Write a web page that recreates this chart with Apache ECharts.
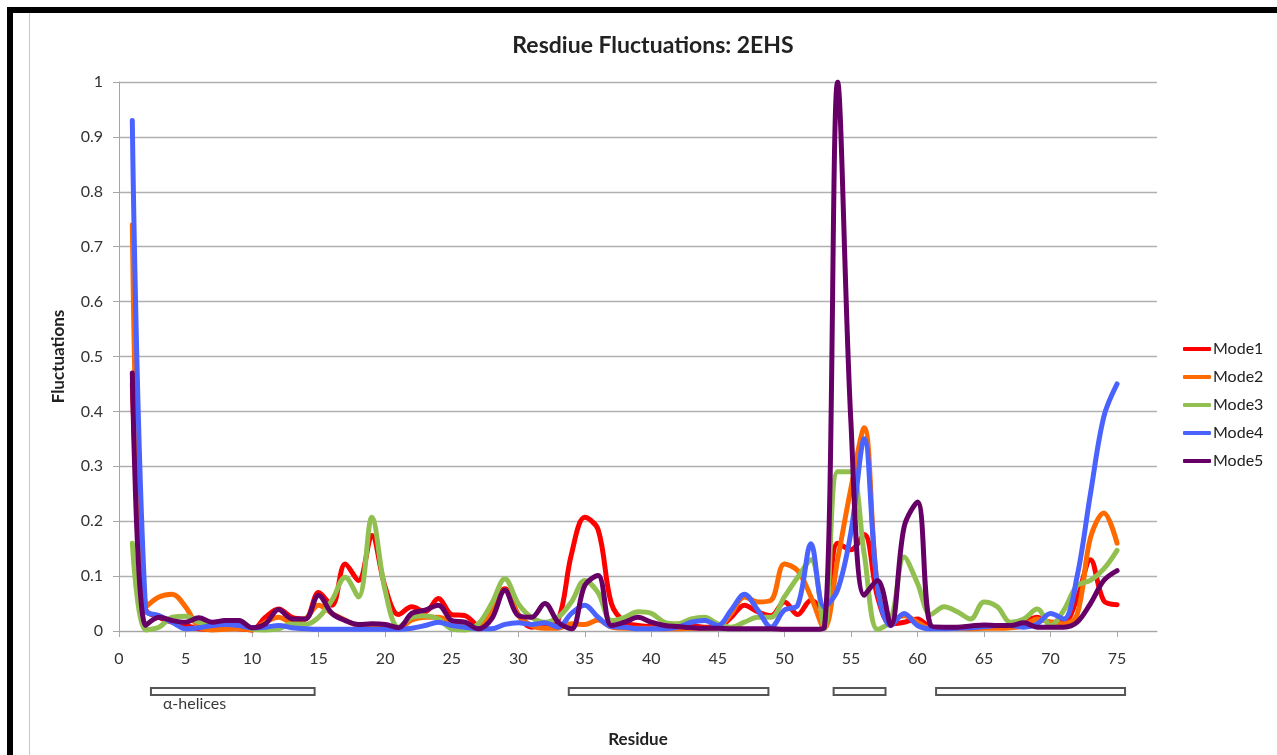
<!DOCTYPE html>
<html>
<head>
<meta charset="utf-8">
<script src="https://cdn.jsdelivr.net/npm/echarts@6/dist/echarts.min.js"></script>
<style>
html,body{margin:0;padding:0;background:#fff;}
#chart{width:1277px;height:755px;}
</style>
</head>
<body>
<div id="chart"></div>
<script>
const residues = [1,2,3,4,5,6,7,8,9,10,11,12,13,14,15,16,17,18,19,20,21,22,23,24,25,26,27,28,29,30,31,32,33,34,35,36,37,38,39,40,41,42,43,44,45,46,47,48,49,50,51,52,53,54,55,56,57,58,59,60,61,62,63,64,65,66,67,68,69,70,71,72,73,74,75];

const mode1 = [0.45,0.04,0.025,0.016,0.01,0.004,0.003,0.007,0.004,0.002,
  0.025,0.04,0.025,0.022,0.07,0.047,0.122,0.092,0.174,0.08,
  0.03,0.044,0.035,0.059,0.03,0.028,0.01,0.044,0.077,0.03,
  0.007,0.013,0.02,0.14,0.207,0.185,0.05,0.016,0.01,0.008,
  0.008,0.007,0.01,0.007,0.007,0.025,0.047,0.035,0.028,0.053,
  0.03,0.056,0.038,0.16,0.148,0.176,0.062,0.013,0.016,0.022,
  0.007,0.006,0.006,0.007,0.007,0.007,0.008,0.016,0.025,0.016,
  0.016,0.06,0.13,0.055,0.048];

const mode2 = [0.74,0.044,0.062,0.067,0.044,0.007,0.002,0.003,0.004,0.002,
  0.016,0.025,0.016,0.022,0.047,0.032,0.02,0.01,0.01,0.008,
  0.005,0.02,0.025,0.025,0.016,0.01,0.005,0.038,0.074,0.03,
  0.01,0.005,0.005,0.013,0.012,0.02,0.007,0.005,0.005,0.005,
  0.004,0.004,0.005,0.005,0.006,0.032,0.062,0.053,0.056,0.122,
  0.11,0.062,0.005,0.13,0.26,0.37,0.08,0.02,0.028,0.016,
  0.005,0.005,0.005,0.004,0.005,0.005,0.006,0.01,0.022,0.016,
  0.013,0.03,0.17,0.215,0.16];

const mode3 = [0.16,0.002,0.007,0.025,0.027,0.016,0.012,0.019,0.019,0.004,
  0.002,0.004,0.013,0.012,0.025,0.056,0.098,0.062,0.207,0.074,
  0.007,0.025,0.028,0.022,0.004,0.002,0.013,0.05,0.095,0.05,
  0.025,0.016,0.025,0.053,0.092,0.07,0.019,0.025,0.035,0.032,
  0.016,0.013,0.022,0.025,0.013,0.007,0.016,0.025,0.025,0.062,
  0.098,0.13,0.005,0.29,0.29,0.14,0.003,0.02,0.135,0.087,
  0.03,0.044,0.035,0.022,0.053,0.044,0.016,0.022,0.04,0.01,
  0.038,0.083,0.092,0.113,0.147];

const mode4 = [0.93,0.038,0.028,0.016,0.004,0.006,0.01,0.012,0.01,0.006,
  0.007,0.01,0.006,0.004,0.003,0.003,0.003,0.003,0.003,0.003,
  0.003,0.005,0.01,0.016,0.01,0.007,0.004,0.004,0.012,0.015,
  0.012,0.015,0.007,0.032,0.047,0.025,0.008,0.007,0.004,0.004,
  0.004,0.007,0.016,0.019,0.01,0.038,0.067,0.038,0.007,0.038,
  0.047,0.159,0.044,0.075,0.18,0.35,0.08,0.01,0.032,0.01,
  0.004,0.004,0.005,0.006,0.008,0.01,0.01,0.007,0.013,0.032,
  0.022,0.1,0.25,0.39,0.45];

const mode5 = [0.47,0.01,0.025,0.019,0.016,0.024,0.016,0.019,0.019,0.006,
  0.013,0.039,0.022,0.022,0.065,0.032,0.019,0.012,0.013,0.012,
  0.006,0.032,0.038,0.047,0.019,0.016,0.004,0.022,0.074,0.028,
  0.025,0.05,0.016,0.004,0.083,0.101,0.01,0.016,0.025,0.016,
  0.01,0.008,0.006,0.005,0.005,0.004,0.004,0.004,0.004,0.003,
  0.003,0.003,0.006,1.0,0.38,0.065,0.092,0.01,0.19,0.235,
  0.01,0.007,0.007,0.009,0.011,0.01,0.01,0.015,0.007,0.007,
  0.007,0.016,0.05,0.092,0.11];

const seriesNames = ['Mode1','Mode2','Mode3','Mode4','Mode5'];
const seriesColors = ['#ff0000','#ff6a00','#92c050','#4a63ff','#660066'];
const xTickValues = [0,5,10,15,20,25,30,35,40,45,50,55,60,65,70,75];

// alpha-helix residue ranges
const helixStart = [2.4, 33.8, 53.7, 61.4];
const helixEnd = [14.7, 48.8, 57.6, 75.6];

const FONT = 'Lato, "Open Sans", sans-serif';
const allModes = [mode1, mode2, mode3, mode4, mode5];

const chart = echarts.init(document.getElementById('chart'), null, {renderer: 'canvas'});

const lineSeries = allModes.map((vals, k) => ({
  name: seriesNames[k],
  type: 'line',
  xAxisIndex: 0,
  yAxisIndex: 0,
  data: residues.map((r, i) => [r, vals[i]]),
  showSymbol: false,
  symbol: 'none',
  smooth: 0.35,
  lineStyle: {width: 5, color: seriesColors[k], cap: 'round', join: 'round'},
  itemStyle: {color: seriesColors[k]},
  emphasis: {disabled: true},
  animation: false
}));

const helixSeries = {
  type: 'custom',
  xAxisIndex: 1,
  yAxisIndex: 1,
  data: helixStart.map((s, i) => [s, helixEnd[i]]),
  clip: false,
  silent: true,
  renderItem: function (params, api) {
    const p0 = api.coord([api.value(0), 1]);
    const p1 = api.coord([api.value(1), 0]);
    return {
      type: 'rect',
      shape: {x: p0[0], y: p0[1], width: p1[0] - p0[0], height: p1[1] - p0[1]},
      style: {fill: '#ffffff', stroke: '#555555', lineWidth: 2}
    };
  },
  animation: false
};

const option = {
  backgroundColor: '#ffffff',
  animation: false,
  title: {
    text: 'Resdiue Fluctuations: 2EHS',
    left: 648,
    top: 29,
    textAlign: 'center',
    textStyle: {fontFamily: FONT, fontSize: 23, fontWeight: 'bold', color: '#222'}
  },
  legend: {
    orient: 'vertical',
    left: 1183,
    top: 341,
    itemWidth: 28,
    itemHeight: 4,
    itemGap: 12,
    padding: 0,
    icon: 'roundRect',
    data: seriesNames,
    textStyle: {fontFamily: FONT, fontSize: 16, color: '#222', padding: [0,0,0,-3]}
  },
  grid: [
    {left: 119, right: 120, top: 82, bottom: 124, containLabel: false},
    {left: 119, right: 120, top: 688, height: 7, containLabel: false}
  ],
  xAxis: [
    {
      type: 'value', gridIndex: 0, min: 0, max: 78, interval: 5,
      name: 'Residue', nameLocation: 'middle', nameGap: 100,
      nameTextStyle: {fontFamily: FONT, fontSize: 17, fontWeight: 'bold', color: '#222'},
      axisLine: {show: true, lineStyle: {color: '#a6a6a6', width: 1}},
      axisTick: {show: true, length: 6, customValues: xTickValues, lineStyle: {color: '#a6a6a6'}},
      axisLabel: {customValues: xTickValues, margin: 20, fontFamily: FONT, fontSize: 16, color: '#333'},
      splitLine: {show: false}
    },
    {type: 'value', gridIndex: 1, min: 0, max: 78, show: false}
  ],
  yAxis: [
    {
      type: 'value', gridIndex: 0, min: 0, max: 1, interval: 0.1,
      name: 'Fluctuations', nameLocation: 'middle', nameGap: 52, nameRotate: 90,
      nameTextStyle: {fontFamily: FONT, fontSize: 17, fontWeight: 'bold', color: '#222'},
      axisLine: {show: true, lineStyle: {color: '#a6a6a6', width: 1}},
      axisTick: {show: true, length: 6, lineStyle: {color: '#a6a6a6'}},
      axisLabel: {margin: 16, fontFamily: FONT, fontSize: 16, color: '#333'},
      splitLine: {show: true, lineStyle: {color: '#b0b0b0', width: 1.3}}
    },
    {type: 'value', gridIndex: 1, min: 0, max: 1, show: false}
  ],
  graphic: [
    {type: 'rect', shape: {x: 7, y: 7, width: 1270, height: 6}, style: {fill: '#000'}, silent: true},
    {type: 'rect', shape: {x: 7, y: 7, width: 6, height: 748}, style: {fill: '#000'}, silent: true},
    {type: 'rect', shape: {x: 29, y: 13, width: 1, height: 742}, style: {fill: '#c8c8c8'}, silent: true},
    {type: 'text', left: 163, top: 696, style: {text: 'α-helices', fontFamily: FONT, fontSize: 16, fill: '#3a3a3a'}, silent: true}
  ],
  series: lineSeries.concat([helixSeries])
};

chart.setOption(option);
</script>
</body>
</html>
